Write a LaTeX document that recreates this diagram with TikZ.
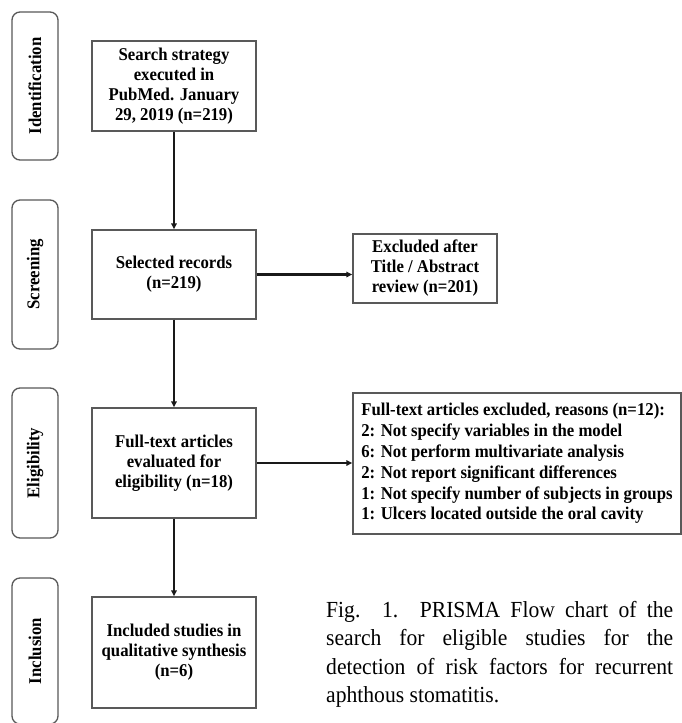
\documentclass[tikz,border=0pt]{standalone}
\usepackage{fontspec}
\setmainfont{Liberation Serif}
\newfontfamily\condfont[FakeStretch=0.93]{Liberation Serif}
\newfontfamily\capfont[FakeStretch=0.94]{Liberation Serif}
\usetikzlibrary{arrows.meta}
\begin{document}
\begin{tikzpicture}[x=1pt,y=-1pt,
  stage/.style={draw=black!65, line width=1.3pt, rounded corners=8pt, rotate=90,
    minimum height=46pt, inner sep=0pt, font=\condfont\fontsize{18}{20}\selectfont\bfseries},
  box/.style={draw=black!65, line width=1.4pt, inner sep=0pt, align=center,
    font=\condfont\fontsize{18}{20}\selectfont\bfseries},
  flow/.style={draw=black!90, line width=2.4pt, -{Triangle[length=6pt,width=5.5pt]}}
]
\useasboundingbox (0,0) rectangle (682,723);
\fill[white] (0,0) rectangle (682,723);

% stage labels
\node[stage, minimum width=148pt] (sid) at (35,86) {Identification};
\node[stage, minimum width=149pt] (ssc) at (35,274.5) {Screening};
\node[stage, minimum width=150pt] (sel) at (35,463) {Eligibility};
\node[stage, minimum width=146pt] (sin) at (35,651) {Inclusion};

% flow boxes
\node[box, minimum width=164pt, minimum height=90pt] (search) at (174,86)
  {Search strategy\\executed in\\PubMed. January\\29, 2019 (n=219)};
\node[box, minimum width=164pt, minimum height=89pt] (selected) at (174,274.5)
  {Selected records\\(n=219)};
\node[box, minimum width=144pt, minimum height=69pt] (excl) at (425,268.5)
  {Excluded after\\Title / Abstract\\review (n=201)};
\node[box, minimum width=164pt, minimum height=110pt] (full) at (174,463)
  {Full-text articles\\evaluated for\\eligibility (n=18)};
\node[box, minimum width=328pt, minimum height=141pt, align=left,
  font=\condfont\fontsize{18}{20.8}\selectfont\bfseries] (reasons) at (517,463.5)
  {Full-text articles excluded, reasons (n=12):\\
   2: Not specify variables in the model\\
   6: Not perform multivariate analysis\\
   2: Not report significant differences\\
   1: Not specify number of subjects in groups\\
   1: Ulcers located outside the oral cavity};
\node[box, minimum width=164pt, minimum height=111pt] (incl) at (174,652.5)
  {Included studies in\\qualitative synthesis\\(n=6)};

% connectors
\draw[flow] (search) -- (selected);
\draw[flow] (selected) -- (full);
\draw[flow] (full) -- (incl);
\draw[flow] (selected.east) -- (selected.east -| excl.west);
\draw[flow] (full.east) -- (full.east -| reasons.west);

% caption
\node[anchor=north west, inner sep=0pt, text width=347pt, align=justify,
  font=\capfont\fontsize{23}{28.4}\selectfont] (cap) at (326,601)
  {\hyphenpenalty=10000\emergencystretch=20pt
   Fig. 1. PRISMA Flow chart of the\linebreak
   search for eligible studies for the\linebreak
   detection of risk factors for recurrent\linebreak
   aphthous stomatitis.};
\end{tikzpicture}
\end{document}
